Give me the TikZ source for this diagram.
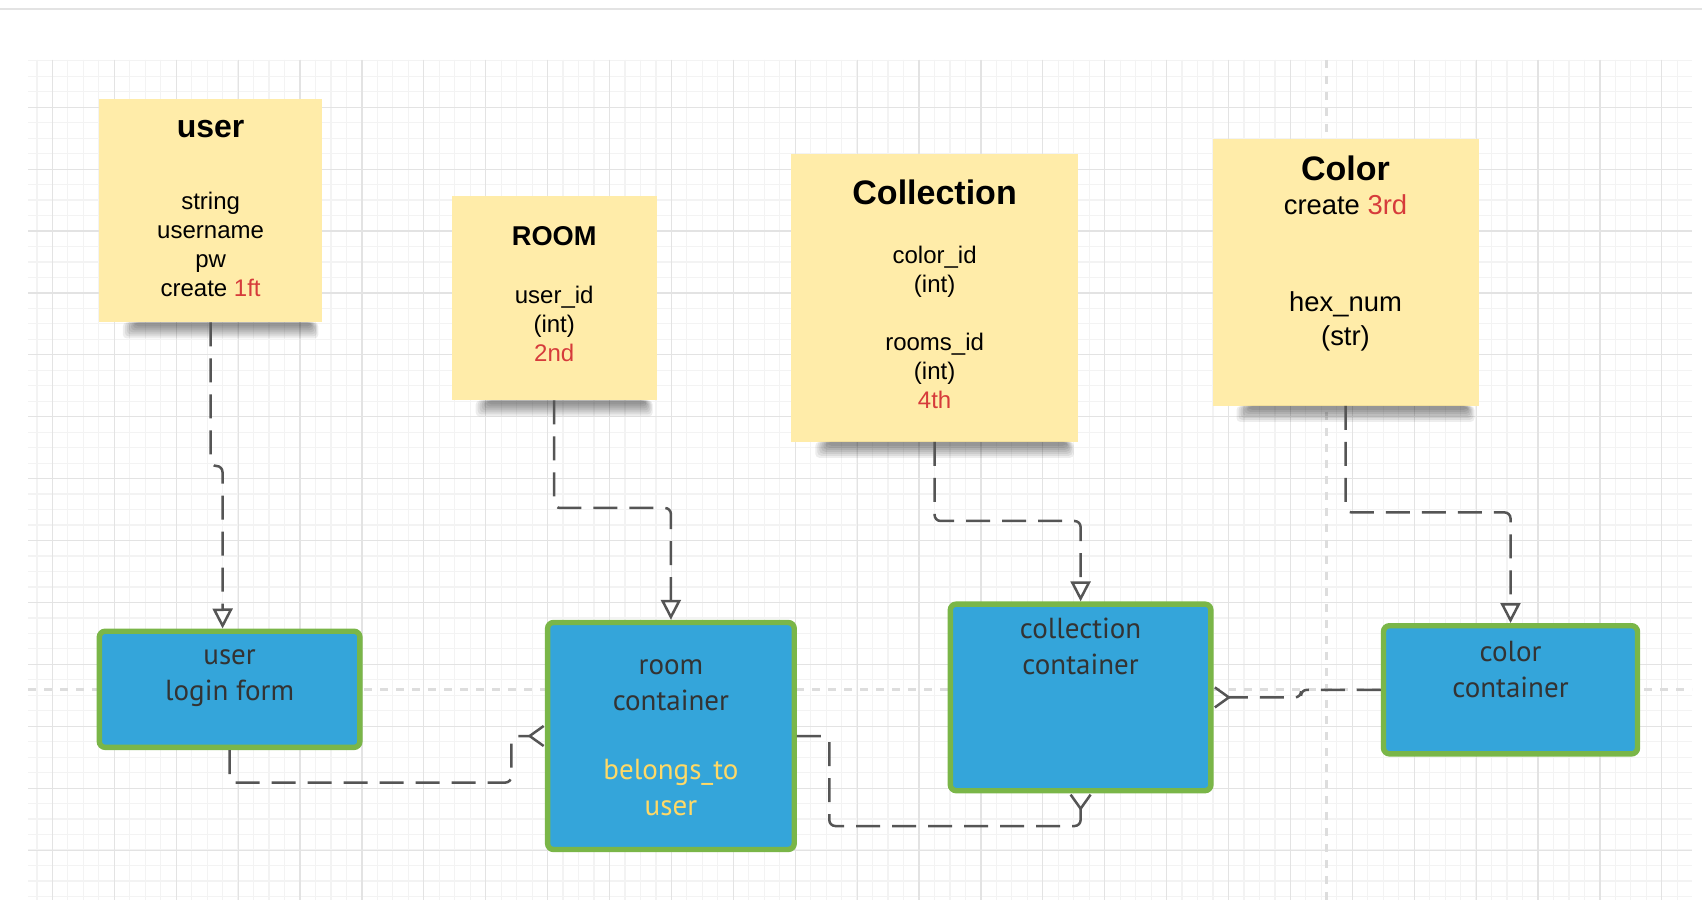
\documentclass[tikz,border=0pt]{standalone}
\usepackage{fontspec}
\setmainfont{Liberation Sans}
\newfontfamily\handfont{PT Sans}
\usetikzlibrary{arrows.meta}

\definecolor{notey}{HTML}{FFECA9}
\definecolor{boxblue}{HTML}{34A5DA}
\definecolor{boxgreen}{HTML}{7AB648}
\definecolor{redtxt}{HTML}{D63B3B}
\definecolor{yeltxt}{HTML}{FFD966}
\definecolor{handgray}{HTML}{333333}
\definecolor{linegray}{HTML}{555555}
\definecolor{gridminor}{HTML}{F3F3F3}
\definecolor{gridmajor}{HTML}{E3E3E3}
\definecolor{guidegray}{HTML}{DDDDDD}

\newcommand{\noteshadow}[1]{%
	\foreach \k in {0,...,6}
		\fill[black, opacity=0.07, rounded corners=2pt]
			([xshift={12pt+\k*1pt}]#1.south west) rectangle
			([xshift={-2pt-\k*0.6pt}, yshift={-8pt+\k*1pt}]#1.south east);}

\tikzset{
	note/.style={fill=notey, inner sep=0pt, outer sep=0pt},
	cbox/.style={fill=boxblue, draw=boxgreen, line width=2.7pt, rounded corners=3pt, inner sep=0pt},
	ttl/.style={anchor=base, inner sep=0pt, font=\bfseries\fontsize{16}{19}\selectfont},
	body/.style={anchor=base, inner sep=0pt, align=center, font=\fontsize{12}{14.5}\selectfont},
	hand/.style={anchor=base, inner sep=0pt, align=center, text=handgray, font=\handfont\fontsize{14.5}{18}\selectfont},
	conn/.style={draw=linegray, line width=1.25pt, dash pattern=on 12pt off 6pt, rounded corners=3pt},
	tri/.style={-{Triangle[length=10pt, width=10pt, fill=white]}},
	crow/.style={-{Straight Barb[reversed, length=7pt, width=10pt]}},
	guide/.style={draw=guidegray, line width=1.5pt, dash pattern=on 4pt off 4pt}
}

\begin{document}
\begin{tikzpicture}[x=0.5pt, y=-0.5pt]
	\useasboundingbox (0,0) rectangle (1702,908);
	\fill[white] (0,0) rectangle (1702,908);
	\draw[gridmajor, line width=0.75pt] (0,9) -- (1702,9);

	\foreach \i in {0,...,106}
		\draw[gridminor, line width=0.6pt] ({36.9+15.475*\i},60) -- ++(0,840);
	\foreach \i in {0,...,54}
		\draw[gridminor, line width=0.6pt] (28,{60.8+15.475*\i}) -- ++(1664,0);
	\foreach \i in {0,...,26}
		\draw[gridmajor, line width=0.6pt] ({52.4+61.9*\i},60) -- ++(0,840);
	\foreach \i in {0,...,12}
		\draw[gridmajor, line width=0.6pt] (28,{107.3+61.9*\i}) -- ++(1664,0);

	\draw[guide] (28,689.3) -- (1692,689.3);
	\draw[guide] (1326.5,60) -- (1326.5,900);

	\node[note, minimum width=111.8pt, minimum height=111.8pt] (user) at (210.6,210.6) {};
	\node[note, minimum width=102.5pt, minimum height=102pt] (room) at (554.2,298.5) {};
	\node[note, minimum width=143.3pt, minimum height=143.8pt] (coll) at (934.6,298) {};
	\node[note, minimum width=133pt, minimum height=133.5pt] (color) at (1345.5,272.5) {};
	\noteshadow{user}
	\noteshadow{room}
	\noteshadow{coll}
	\noteshadow{color}

	\node[ttl] (user-t) at (210.6,137.6) {user};
	\node[body] (user-b) at (210.6,296.2)
		{string\\username\\pw\\create \textcolor{redtxt}{1ft}};

	\node[ttl, font=\bfseries\fontsize{13.6}{16}\selectfont] (room-t) at (554.2,245.3) {ROOM};
	\node[body] (room-b) at (554.2,361.6)
		{user\_id\\(int)\\\textcolor{redtxt}{2nd}};

	\node[ttl, font=\bfseries\fontsize{17}{20}\selectfont] (coll-t) at (934.6,204.3) {Collection};
	\node[body] (coll-b) at (934.6,408.5)
		{color\_id\\(int)\\~\\rooms\_id\\(int)\\\textcolor{redtxt}{4th}};

	\node[ttl, font=\bfseries\fontsize{17}{20}\selectfont] (color-t) at (1345.5,180.4) {Color};
	\node[body, font=\fontsize{13.7}{16.8}\selectfont] (color-c) at (1345.5,214.4)
		{create \textcolor{redtxt}{3rd}};
	\node[body, font=\fontsize{13.7}{16.8}\selectfont] (color-b) at (1345.5,345.6)
		{hex\_num\\(str)};

	\node[cbox, minimum width=130.3pt, minimum height=58.1pt] (login) at (229.6,689.3) {};
	\node[cbox, minimum width=123.3pt, minimum height=113.5pt] (roomc) at (670.9,736) {};
	\node[cbox, minimum width=130.3pt, minimum height=93.3pt] (collc) at (1080.6,697.4) {};
	\node[cbox, minimum width=127pt, minimum height=64.1pt] (colorc) at (1510.5,689.8) {};

	\node[hand] (login-t) at (229.6,700) {user\\login form};
	\node[hand] (roomc-t) at (670.9,710) {room\\container};
	\node[hand, text=yeltxt] (roomc-y) at (670.9,815) {belongs\_to\\user};
	\node[hand] (collc-t) at (1080.6,674) {collection\\container};
	\node[hand] (colorc-t) at (1510.5,697) {color\\container};

	\coordinate (j1) at (222.5,466);
	\draw[conn, tri] (user.south) |- (j1) -- ([xshift=-3.5pt]login.north);
	\draw[conn, tri] (room.south) -- ++(0,107.5) -| (roomc.north);
	\draw[conn, tri] (coll.south) -- ++(0,79.2) -| (collc.north);
	\draw[conn, tri] (color.south) -- ++(0,106.4) -| (colorc.north);

	\coordinate (j5) at (511.3,782.6);
	\coordinate (j6) at (829.3,826);
	\coordinate (j7) at (1301,697.4);
	\draw[conn, crow] (login.south) |- (j5) |- (roomc.west);
	\draw[conn, crow] (roomc.east) -| (j6) -| (collc.south);
	\draw[conn, crow] (colorc.west) -| (j7) -- (collc.east);
\end{tikzpicture}
\end{document}
